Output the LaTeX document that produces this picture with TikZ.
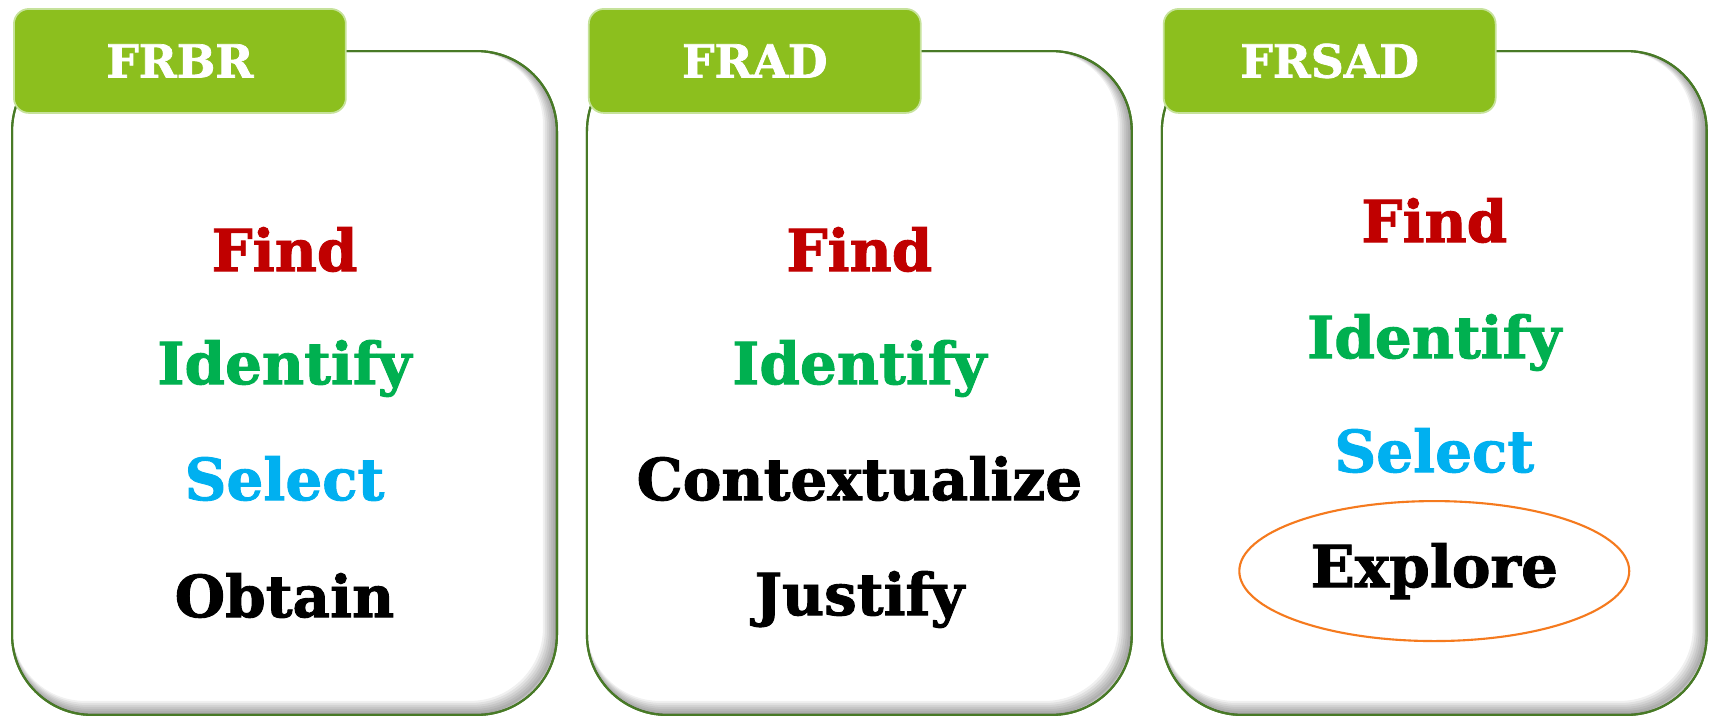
\documentclass[tikz,border=0pt]{standalone}
\usepackage{fontspec}
\setmainfont{DejaVu Serif}[BoldFeatures={FakeBold=1.6}]
\usetikzlibrary{calc,shapes,positioning}
\definecolor{tabGreen}{RGB}{140,191,30}
\definecolor{tabEdge}{RGB}{198,226,155}
\definecolor{panelEdge}{RGB}{72,122,38}
\definecolor{findRed}{RGB}{192,0,0}
\definecolor{identGreen}{RGB}{0,176,80}
\definecolor{selectBlue}{RGB}{0,176,240}
\definecolor{exploreOrange}{RGB}{245,122,30}

\begin{document}
\begin{tikzpicture}[x=0.02cm,y=-0.02cm,node distance=.6cm,
          panel/.style={
            draw=panelEdge,
            line width=1.2pt,
            rectangle,
            fill=white,
            rounded corners=1.6cm,
            minimum width=10.9cm,
            minimum height=13.28cm,
            inner sep=0,
            outer sep=0},
          tab/.style={
            draw=tabEdge,
            line width=1pt,
            rectangle,
            fill=tabGreen,
            rounded corners=.3cm,
            text=white,
            font=\bfseries\fontsize{26}{30}\selectfont,
            minimum width=6.64cm,
            minimum height=2.08cm,
            anchor=north west},
          word/.style={
            font=\bfseries\fontsize{33}{39}\selectfont,
            anchor=base,
            inner sep=0}
          ]

          \useasboundingbox (0,0) rectangle (1712,717);

          \node[panel] (panel1) at (284.5,383) {};
          \node[panel, right=of panel1] (panel2) {};
          \node[panel, right=of panel2] (panel3) {};

          % inner shadow on the right and bottom
          \foreach \p in {panel1,panel2,panel3} {
            \begin{scope}
              \clip[rounded corners=1.6cm] (\p.south west) rectangle (\p.north east);
              \foreach \w in {14,12,10,8,6,4,2}
                \draw[black, opacity=.06, line width=\w*.02cm, rounded corners=1.6cm]
                  ([shift={(-\w/2,-\w/2)}]\p.south west) rectangle ([shift={(-\w/2,-\w/2)}]\p.north east);
            \end{scope}
            \draw[panelEdge, line width=1.2pt, rounded corners=1.6cm] (\p.south west) rectangle (\p.north east);
          }

          \node[tab] (tab1) at ($(panel1.north west)+(1,-43)$) {FRBR};
          \node[tab] (tab2) at ($(panel2.north west)+(1,-43)$) {FRAD};
          \node[tab] (tab3) at ($(panel3.north west)+(1,-43)$) {FRSAD};

          \node[word, text=findRed] (find1) at ($(panel1.north)+(0,220)$) {Find};
          \node[word, text=identGreen] (identify1) at ($(panel1.north)+(0,333)$) {Identify};
          \node[word, text=selectBlue] (select1) at ($(panel1.north)+(0,449)$) {Select};
          \node[word] (obtain1) at ($(panel1.north)+(0,566)$) {Obtain};

          \node[word, text=findRed] (find2) at ($(panel2.north)+(0,220)$) {Find};
          \node[word, text=identGreen] (identify2) at ($(panel2.north)+(0,333)$) {Identify};
          \node[word] (context2) at ($(panel2.north)+(0,449)$) {Contextualize};
          \node[word] (justify2) at ($(panel2.north)+(0,564)$) {Justify};

          \node[word, text=findRed] (find3) at ($(panel3.north)+(0,191)$) {Find};
          \node[word, text=identGreen] (identify3) at ($(panel3.north)+(0,307)$) {Identify};
          \node[word, text=selectBlue] (select3) at ($(panel3.north)+(0,421)$) {Select};
          \node[word, ellipse, draw=exploreOrange, line width=1.2pt, minimum width=7.8cm, minimum height=2.8cm] (explore3) at ($(panel3.north)+(0,536)$) {Explore};
        \end{tikzpicture}
\end{document}
